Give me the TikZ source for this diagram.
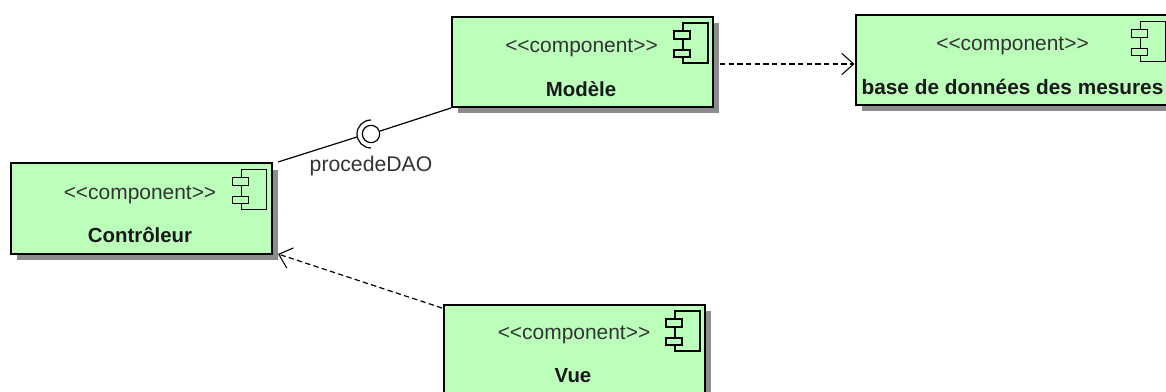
\documentclass[tikz,border=0pt]{standalone}
\usepackage{fontspec}
\setmainfont{Liberation Sans}
\usetikzlibrary{positioning,arrows.meta,shadows}
\definecolor{compgreen}{HTML}{BBFFBB}
\newcommand{\compstereo}{{<}{<}component{>}{>}}

\begin{document}
\begin{tikzpicture}[
            x=.75pt,y=-.75pt,
            comp/.style={draw=black,fill=compgreen,line width=1.5pt,inner sep=0pt,minimum width=195.75pt,minimum height=67.5pt,
                drop shadow={shadow xshift=4.5pt,shadow yshift=-4.5pt,fill=black!45,opacity=1}},
            stereo/.style={text=black!80,font=\fontsize{15.7}{18}\selectfont},
            compname/.style={text=black!90,font=\fontsize{15.3}{18}\selectfont\bfseries},
            link/.style={line width=.9pt},
            dep/.style={line width=.9pt,dashed,dash pattern=on 4pt off 2.5pt,-{Straight Barb[length=9pt,width=16pt,line width=.8pt]}},
            compicon/.pic={
                \draw[line width=.9pt] (-31,7) rectangle (-6,47);
                \draw[line width=.9pt,fill=compgreen] (-40,15) rectangle (-24,23);
                \draw[line width=.9pt,fill=compgreen] (-40,34) rectangle (-24,41);
            }
        ]
            \useasboundingbox (0,0) rectangle (1166,392);
            \clip (0,0) rectangle (1166,392);

            \node[comp] (modele) at (582.5,62) {};
            \node[stereo] (modeleS) at (581.5,47.5) {\compstereo};
            \node[compname] (modeleN) at (581,89) {Modèle};
            \pic at (modele.north east) {compicon};

            \node[comp,minimum width=236.25pt] (base) at (1013,60.5) {};
            \node[stereo] (baseS) at (1012.5,45.5) {\compstereo};
            \node[compname,font=\fontsize{15.6}{18}\selectfont\bfseries] (baseN) at (1012.5,87) {base de données des mesures};
            \pic at (base.north east) {compicon};

            \node[comp] (ctrl) at (141,208.5) {};
            \node[stereo] (ctrlS) at (140,194.5) {\compstereo};
            \node[compname] (ctrlN) at (140,235) {Contrôleur};
            \pic at (ctrl.north east) {compicon};

            \node[comp] (vue) at (574.5,350) {};
            \node[stereo] (vueS) at (574,335) {\compstereo};
            \node[compname] (vueN) at (573,376) {Vue};
            \pic at (vue.north east) {compicon};

            \node[circle,draw,line width=.9pt,inner sep=0pt,minimum size=13pt] (ball) at (371,134) {};
            \coordinate (sockU) at (371,120);
            \coordinate (sockL) at (357,137);
            \coordinate (ctrlU) at (278,162);
            \coordinate (ctrlD) at (278,254);
            \coordinate (vueU) at (442,308);
            \coordinate (modeleR) at (720,64);
            \node[text=black!80,font=\fontsize{15.9}{18}\selectfont] (daoL) at (371,166) {procedeDAO};

            \draw[line width=.9pt] (sockU) arc[start angle=90,end angle=270,radius=10.5pt];
            \draw[link] (ctrlU) -- (sockL);
            \draw[link] (ball) -- (modele.south west);

            \draw[dep] (modeleR) -- (modeleR -| base.west);
            \draw[dep] (vueU) -- (ctrlD);
        \end{tikzpicture}
\end{document}
